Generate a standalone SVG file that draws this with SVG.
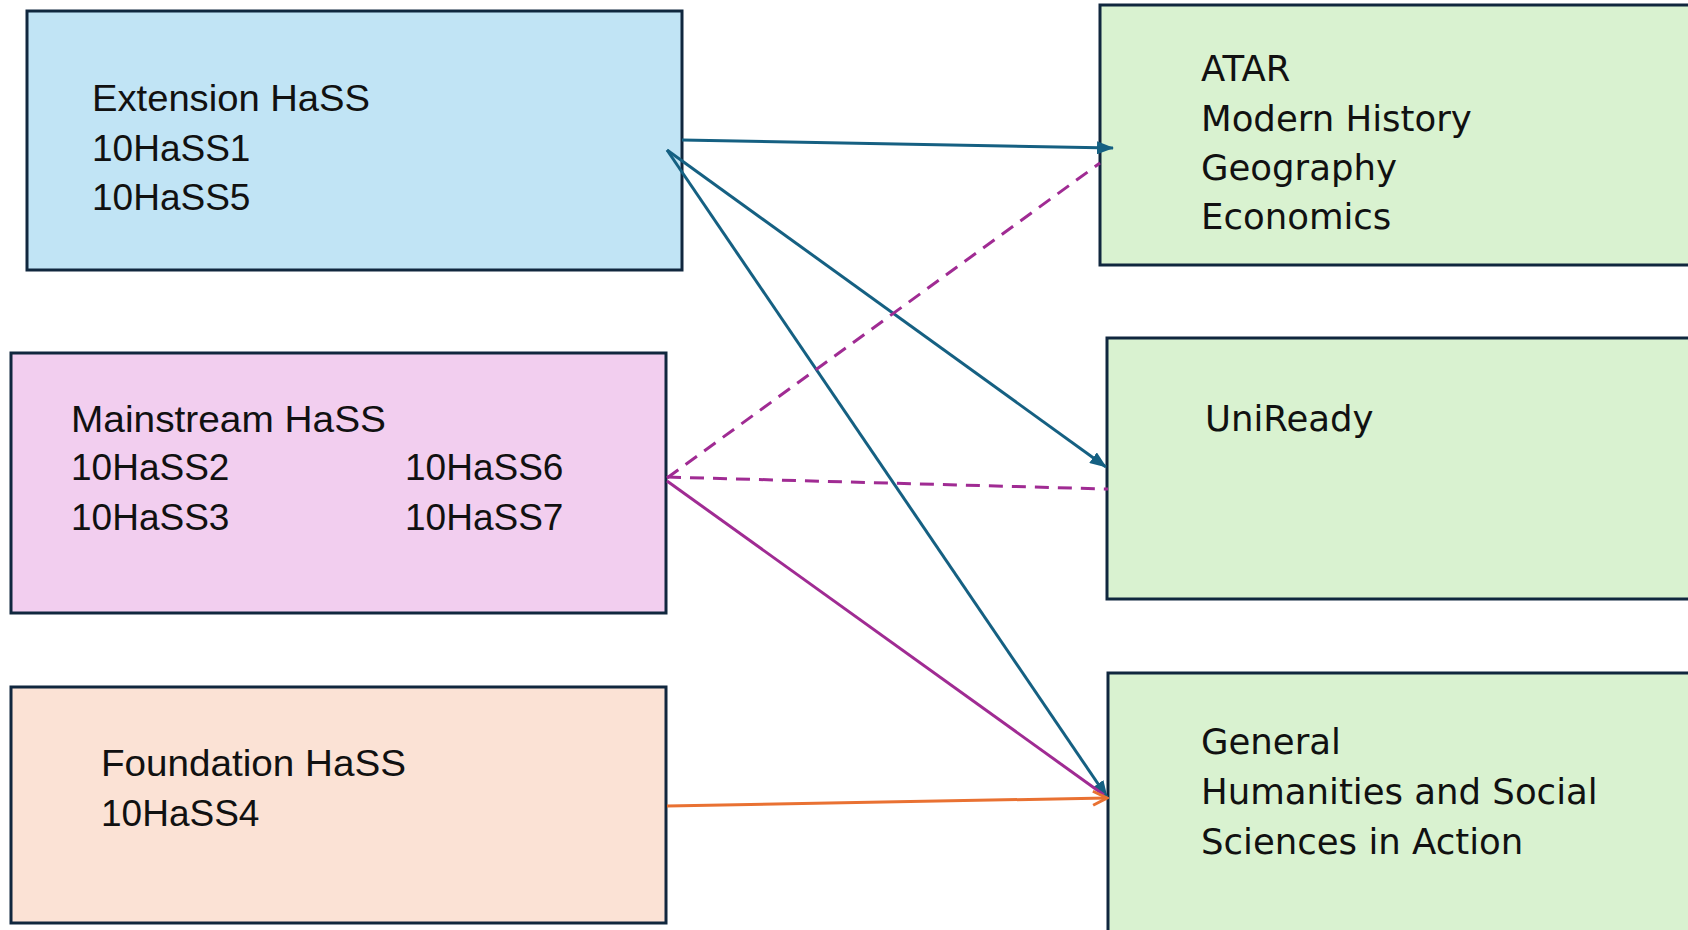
<svg xmlns="http://www.w3.org/2000/svg" width="1688" height="930" viewBox="0 0 1688 930">
<style>
.box{stroke:#10273E;stroke-width:3}
.lt{font-family:"Liberation Sans",Arial,sans-serif;font-size:37px;fill:#111}
.rt{font-family:"DejaVu Sans",sans-serif;font-size:35.5px;fill:#111}
.blue{stroke:#156082;stroke-width:3;fill:none}
.purple{stroke:#A02B93;stroke-width:3;fill:none}
.dash{stroke-dasharray:14 9}
.orange{stroke:#E97132;stroke-width:3;fill:none}
</style>
<defs>
<marker id="ab" markerUnits="userSpaceOnUse" markerWidth="17" markerHeight="13" refX="16" refY="6.5" orient="auto">
<path d="M0,0 L17,6.5 L0,13 Z" fill="#156082"/>
</marker>
<marker id="ao" markerUnits="userSpaceOnUse" markerWidth="18" markerHeight="18" refX="16" refY="9" orient="auto">
<path d="M2,2 L16,9 L2,16" fill="none" stroke="#E97132" stroke-width="3"/>
</marker>
</defs>
<rect width="1688" height="930" fill="#fff"/>
<g id="extension">
<rect class="box" x="27" y="11" width="655" height="259" fill="#C1E4F5"/>
<text class="lt" x="92" y="111" textLength="278" lengthAdjust="spacingAndGlyphs">Extension HaSS</text>
<text class="lt" x="92" y="160.5">10HaSS1</text>
<text class="lt" x="92" y="209.5">10HaSS5</text>
</g>
<g id="mainstream">
<rect class="box" x="11" y="353" width="655" height="260" fill="#F2CEEF"/>
<text class="lt" x="71" y="431.5" textLength="315" lengthAdjust="spacingAndGlyphs">Mainstream HaSS</text>
<text class="lt" x="71" y="480">10HaSS2</text>
<text class="lt" x="71" y="529.5">10HaSS3</text>
<text class="lt" x="405" y="480">10HaSS6</text>
<text class="lt" x="405" y="529.5">10HaSS7</text>
</g>
<g id="foundation">
<rect class="box" x="11" y="687" width="655" height="236" fill="#FBE2D5"/>
<text class="lt" x="101" y="776" textLength="305" lengthAdjust="spacingAndGlyphs">Foundation HaSS</text>
<text class="lt" x="101" y="826">10HaSS4</text>
</g>
<g id="atar">
<rect class="box" x="1100" y="5" width="620" height="260" fill="#D9F2D0"/>
<text class="rt" x="1201" y="81">ATAR</text>
<text class="rt" x="1201" y="130.5">Modern History</text>
<text class="rt" x="1201" y="179.5">Geography</text>
<text class="rt" x="1201" y="229">Economics</text>
</g>
<g id="uniready">
<rect class="box" x="1107" y="338" width="620" height="261" fill="#D9F2D0"/>
<text class="rt" x="1205" y="431">UniReady</text>
</g>
<g id="general">
<rect class="box" x="1108" y="673" width="620" height="280" fill="#D9F2D0"/>
<text class="rt" x="1201" y="753.5">General</text>
<text class="rt" x="1201" y="803.5">Humanities and Social</text>
<text class="rt" x="1201" y="853.5">Sciences in Action</text>
</g>
<g id="connectors">
<line class="blue" x1="682" y1="140" x2="1113" y2="148" marker-end="url(#ab)"/>
<line class="blue" x1="667" y1="150" x2="1106" y2="467" marker-end="url(#ab)"/>
<line class="blue" x1="667" y1="150" x2="1107" y2="797" marker-end="url(#ab)"/>
<line class="purple dash" x1="667" y1="478" x2="1100" y2="163"/>
<line class="purple dash" x1="667" y1="477" x2="1108" y2="489"/>
<line class="purple" x1="667" y1="481" x2="1104" y2="795"/>
<line class="orange" x1="667" y1="806" x2="1107" y2="798" marker-end="url(#ao)"/>
</g>
</svg>
